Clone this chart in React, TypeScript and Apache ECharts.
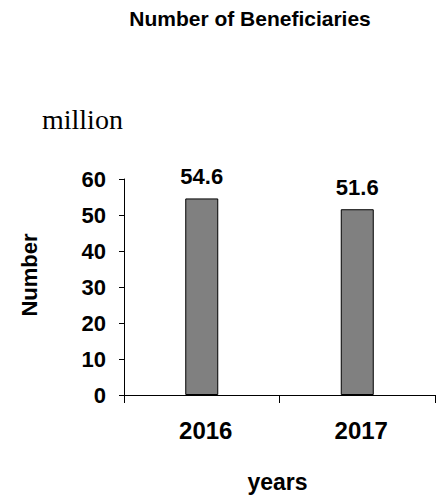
import React, { useEffect, useRef } from "react";
import * as echarts from "echarts";

const categories = ["2016", "2017"];
const beneficiaries = [54.6, 51.6];
const yTicks = { min: 0, max: 60, interval: 10 };
const titleText = "Number of Beneficiaries";
const unitText = "million";
const yName = "Number";
const xName = "years";

export default function App() {
  const ref = useRef<HTMLDivElement>(null);
  useEffect(() => {
    if (!ref.current) return;
    const chart = echarts.init(ref.current, null, { renderer: "svg" });
    const bold = { fontFamily: "Liberation Sans, Arial", fontWeight: "bold" as const, color: "#000" };
    chart.setOption({
      animation: false,
      backgroundColor: "#fff",
      grid: { left: 124, top: 179, width: 311, height: 216 },
      graphic: [
        {
          type: "text",
          x: 250,
          y: 18,
          style: {
            text: titleText,
            font: "bold 21px 'Liberation Sans', Arial",
            fill: "#000",
            align: "center",
            verticalAlign: "middle",
          },
        },
        {
          type: "text",
          x: 42,
          y: 119,
          style: {
            text: unitText,
            font: "28px 'Liberation Serif', 'Times New Roman', serif",
            fill: "#000",
            align: "left",
            verticalAlign: "middle",
          },
        },
        {
          type: "text",
          x: 29,
          y: 275,
          rotation: Math.PI / 2,
          style: {
            text: yName,
            font: "bold 22px 'Liberation Sans', Arial",
            fill: "#000",
            align: "center",
            verticalAlign: "middle",
          },
        },
      ],
      xAxis: {
        type: "category",
        data: categories,
        boundaryGap: true,
        name: xName,
        nameLocation: "middle",
        nameGap: 75,
        nameTextStyle: { ...bold, fontSize: 23, padding: [0, 4, 0, 0] },
        axisLine: { show: true, lineStyle: { color: "#000", width: 1 } },
        axisTick: { show: true, length: 8, lineStyle: { color: "#000" } },
        axisLabel: { ...bold, fontSize: 24, margin: 23, padding: [0, 0, 0, 8] },
        splitLine: { show: false },
      },
      yAxis: {
        type: "value",
        min: yTicks.min,
        max: yTicks.max,
        interval: yTicks.interval,
        axisLine: { show: true, lineStyle: { color: "#000", width: 1 } },
        axisTick: { show: true, length: 5, lineStyle: { color: "#000" } },
        axisLabel: { ...bold, fontSize: 22, margin: 18 },
        splitLine: { show: false },
      },
      series: [
        {
          type: "bar",
          data: beneficiaries,
          barWidth: 33,
          itemStyle: { color: "#808080", borderColor: "#000", borderWidth: 1 },
          label: {
            show: true,
            position: "top",
            distance: 11,
            ...bold,
            fontSize: 22,
          },
        },
      ],
    });
    return () => chart.dispose();
  }, []);
  return (
    <div
      ref={ref}
      style={{ position: "fixed", left: 0, top: 0, width: 442, height: 497, background: "#fff" }}
    />
  );
}
